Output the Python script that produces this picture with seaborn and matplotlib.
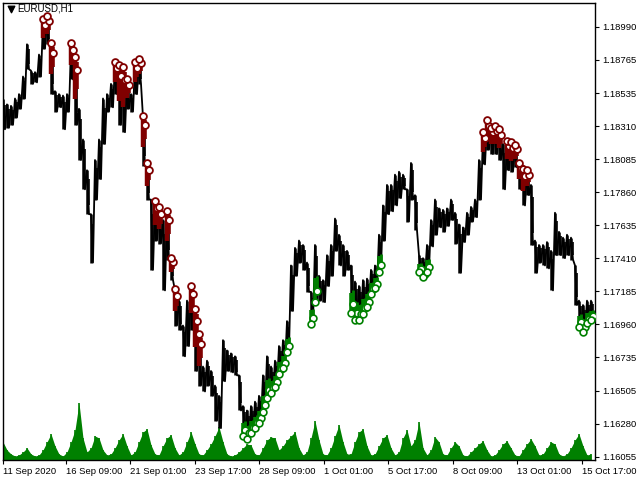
import numpy as np
import matplotlib
matplotlib.use("Agg")
import matplotlib.pyplot as plt
import matplotlib.transforms as mtransforms
import seaborn as sns

# EURUSD H1, sampled every 4 bars (high / low of each block)
highs = [1.1850, 1.1846, 1.1845, 1.1850, 1.1853, 1.1865, 1.1887, 1.1869, 1.1868, 1.1880,
         1.1903, 1.1905, 1.1887, 1.1855, 1.1853, 1.1852, 1.1853, 1.1887, 1.1877, 1.1843,
         1.1822, 1.1801, 1.1771, 1.1808, 1.1822, 1.1850, 1.1853, 1.1860, 1.1874, 1.1872,
         1.1870, 1.1862, 1.1853, 1.1874, 1.1876, 1.1837, 1.1805, 1.1781, 1.1779, 1.1775,
         1.1767, 1.1772, 1.1740, 1.1719, 1.1712, 1.1695, 1.1712, 1.1721, 1.1705, 1.1688,
         1.1667, 1.1671, 1.1664, 1.1654, 1.1647, 1.1685, 1.1678, 1.1676, 1.1674, 1.1661,
         1.1640, 1.1637, 1.1640, 1.1643, 1.1647, 1.1661, 1.1674, 1.1667, 1.1671, 1.1681,
         1.1685, 1.1698, 1.1736, 1.1748, 1.1753, 1.1750, 1.1738, 1.1718, 1.1750, 1.1729,
         1.1726, 1.1743, 1.1750, 1.1768, 1.1757, 1.1750, 1.1746, 1.1736, 1.1725, 1.1722,
         1.1726, 1.1727, 1.1733, 1.1736, 1.1757, 1.1777, 1.1791, 1.1791, 1.1798, 1.1800,
         1.1798, 1.1788, 1.1806, 1.1784, 1.1743, 1.1741, 1.1750, 1.1767, 1.1781, 1.1775,
         1.1774, 1.1775, 1.1781, 1.1772, 1.1764, 1.1762, 1.1772, 1.1776, 1.1781, 1.1808,
         1.1826, 1.1834, 1.1829, 1.1830, 1.1828, 1.1819, 1.1820, 1.1819, 1.1817, 1.1805,
         1.1801, 1.1800, 1.1791, 1.1753, 1.1750, 1.1750, 1.1752, 1.1746, 1.1772, 1.1759,
         1.1755, 1.1757, 1.1755, 1.1736, 1.1712, 1.1709, 1.1712, 1.1712]
lows = [1.1829, 1.1830, 1.1832, 1.1837, 1.1843, 1.1850, 1.1870, 1.1860, 1.1861, 1.1865,
        1.1884, 1.1887, 1.1853, 1.1841, 1.1844, 1.1829, 1.1841, 1.1863, 1.1832, 1.1808,
        1.1788, 1.1771, 1.1738, 1.1781, 1.1795, 1.1819, 1.1841, 1.1844, 1.1853, 1.1832,
        1.1827, 1.1843, 1.1841, 1.1853, 1.1860, 1.1804, 1.1781, 1.1733, 1.1753, 1.1751,
        1.1719, 1.1740, 1.1726, 1.1695, 1.1692, 1.1674, 1.1681, 1.1692, 1.1664, 1.1654,
        1.1650, 1.1654, 1.1647, 1.1630, 1.1625, 1.1657, 1.1664, 1.1663, 1.1661, 1.1637,
        1.1621, 1.1619, 1.1623, 1.1626, 1.1630, 1.1637, 1.1647, 1.1650, 1.1654, 1.1663,
        1.1667, 1.1678, 1.1705, 1.1729, 1.1738, 1.1733, 1.1718, 1.1697, 1.1712, 1.1712,
        1.1711, 1.1722, 1.1729, 1.1746, 1.1736, 1.1729, 1.1733, 1.1705, 1.1700, 1.1700,
        1.1704, 1.1709, 1.1718, 1.1722, 1.1733, 1.1753, 1.1771, 1.1773, 1.1777, 1.1782,
        1.1788, 1.1766, 1.1781, 1.1760, 1.1733, 1.1729, 1.1733, 1.1749, 1.1757, 1.1762,
        1.1759, 1.1763, 1.1767, 1.1751, 1.1731, 1.1752, 1.1757, 1.1766, 1.1769, 1.1781,
        1.1805, 1.1815, 1.1812, 1.1812, 1.1808, 1.1788, 1.1801, 1.1800, 1.1803, 1.1788,
        1.1777, 1.1784, 1.1750, 1.1731, 1.1738, 1.1736, 1.1734, 1.1719, 1.1743, 1.1743,
        1.1741, 1.1743, 1.1740, 1.1709, 1.1695, 1.1692, 1.1698, 1.1700]
# tick volume per block (x100)
volumes = [18, 10, 6, 4, 5, 8, 12, 6, 4, 5, 10, 18, 26, 14, 6, 4, 8, 18, 30, 57,
           22, 8, 12, 24, 22, 10, 5, 6, 12, 20, 26, 14, 5, 8, 18, 28, 31, 15, 6, 5,
           14, 22, 25, 12, 5, 8, 18, 28, 16, 6, 5, 10, 16, 24, 33, 18, 6, 4, 5, 8,
           12, 16, 15, 6, 5, 12, 20, 23, 22, 10, 14, 20, 24, 28, 12, 5, 8, 22, 39, 20,
           6, 5, 12, 24, 35, 18, 6, 6, 18, 28, 31, 14, 5, 6, 14, 22, 25, 12, 5, 8,
           22, 30, 14, 20, 38, 12, 5, 10, 23, 18, 6, 5, 12, 18, 14, 5, 4, 8, 12, 16,
           19, 10, 4, 5, 10, 16, 19, 12, 5, 4, 10, 16, 21, 14, 5, 6, 12, 18, 16, 6,
           4, 6, 12, 20, 26, 14, 5, 6]
sell_blocks = [10, 11, 12, 17, 18, 28, 29, 30, 31, 33, 34, 35, 36, 38, 39, 41, 42, 43,
               47, 48, 49, 120, 121, 122, 123, 124, 126, 127, 128, 129, 130, 131]
buy_blocks = [60, 61, 62, 63, 64, 65, 66, 67, 68, 69, 70, 71, 77, 78, 87, 88, 89, 90,
              91, 92, 93, 94, 104, 105, 106, 144, 145, 146, 147]

price_ticks = [1.18990, 1.18765, 1.18535, 1.18310, 1.18085, 1.17860, 1.17635,
               1.17410, 1.17185, 1.16960, 1.16735, 1.16505, 1.16280, 1.16055]
time_labels = ["11 Sep 2020", "16 Sep 09:00", "21 Sep 01:00", "23 Sep 17:00",
               "28 Sep 09:00", "1 Oct 01:00", "5 Oct 17:00", "8 Oct 09:00",
               "13 Oct 01:00", "15 Oct 17:00"]

sns.set_style("white")
plt.rcParams['font.family'] = ['Liberation Sans', 'DejaVu Sans']

highs = np.array(highs)
lows = np.array(lows)
x = np.arange(len(highs)) * 4
time_ticks = [0] + list(62.6 + 64.5 * np.arange(9))

fig = plt.figure(figsize=(6.4, 4.8), dpi=100)
ax = fig.add_axes([3 / 640, 20 / 480, 592 / 640, 457 / 480])
ax2 = ax.twinx()

# volume histogram in the background
vol = np.array(volumes) * 100
ax2.fill_between(x, 0, vol, color="#008000", lw=0)
ax2.vlines(x, 0, vol, color="#008000", lw=1.2)
ax2.set_ylim(0, 45700)
ax2.set_yticks([])
ax2.grid(False)
ax.set_zorder(ax2.get_zorder() + 1)
ax.patch.set_visible(False)

# price bars: high/low of each block plus a zigzag joining them
zx = np.column_stack([x, x + 2]).ravel()
zy = np.column_stack([highs, lows]).ravel()
ax.plot(zx, zy, color="black", lw=1.3)
ax.vlines(x, lows, highs, color="black", lw=1.8)
ax.vlines(x + 2, lows + 0.2 * (highs - lows), highs - 0.2 * (highs - lows), color="black", lw=1.2)

maroon = "#800000"
green = "#008000"
sell = np.array(sell_blocks)
buy = np.array(buy_blocks)
rng = highs - lows
ax.vlines(x[sell], highs[sell] - 0.6 * rng[sell], highs[sell], color=maroon, lw=3.2)
ax.vlines(x[sell] + 2, highs[sell] - 0.45 * rng[sell], highs[sell] - 0.05 * rng[sell], color=maroon, lw=2.6)
ax.vlines(x[buy], lows[buy], lows[buy] + 0.4 * rng[buy], color=green, lw=2.6)
ax.vlines(x[buy] + 2, lows[buy] + 0.1 * rng[buy], lows[buy] + 0.45 * rng[buy], color=green, lw=2.0)

# signal arrows: one per bar tip, two bars of each block shown
sns.scatterplot(x=x[sell] + 2, y=highs[sell] - 0.2 * rng[sell] + 0.00012, ax=ax, marker="o",
                s=24, facecolor="white", edgecolor=maroon, linewidth=1.3, zorder=5)
sns.scatterplot(x=x[sell], y=highs[sell] + 0.00012, ax=ax, marker="o", s=24,
                facecolor="white", edgecolor=maroon, linewidth=1.3, zorder=6)
sns.scatterplot(x=x[buy] + 2, y=lows[buy] + 0.2 * rng[buy] - 0.00012, ax=ax, marker="o",
                s=24, facecolor="white", edgecolor=green, linewidth=1.2, zorder=5)
sns.scatterplot(x=x[buy], y=lows[buy] - 0.00012, ax=ax, marker="o", s=24,
                facecolor="white", edgecolor=green, linewidth=1.2, zorder=6)

ax.set_xlim(0, 592)
ax.set_ylim(1.16032, 1.19152)
ax.yaxis.tick_right()
ax.set_yticks(price_ticks)
ax.set_yticklabels([f"{p:.5f}" for p in price_ticks])
ax.set_xticks(time_ticks)
ax.set_xticklabels(time_labels)
offset = mtransforms.ScaledTranslation(2 / 100, 0, fig.dpi_scale_trans)
for lbl in ax.get_xticklabels():
    lbl.set_horizontalalignment("left")
    lbl.set_transform(lbl.get_transform() + offset)
ax.tick_params(axis="both", direction="out", length=3, width=0.8, color="black",
               labelsize=6.8, labelcolor="black", pad=2)
ax.tick_params(axis="y", right=True, left=False)
ax.tick_params(axis="x", bottom=True)
for sp in ax.spines.values():
    sp.set_color("black")
    sp.set_linewidth(1)
for sp in ax2.spines.values():
    sp.set_visible(False)
ax.grid(False)

# chart caption
ax.scatter([0.0135], [0.9865], marker="v", s=22, color="black", transform=ax.transAxes, zorder=6)
ax.text(0.024, 0.987, "EURUSD,H1", transform=ax.transAxes, fontsize=7,
        ha="left", va="center", color="black")

fig.savefig("out.png", dpi=100)
